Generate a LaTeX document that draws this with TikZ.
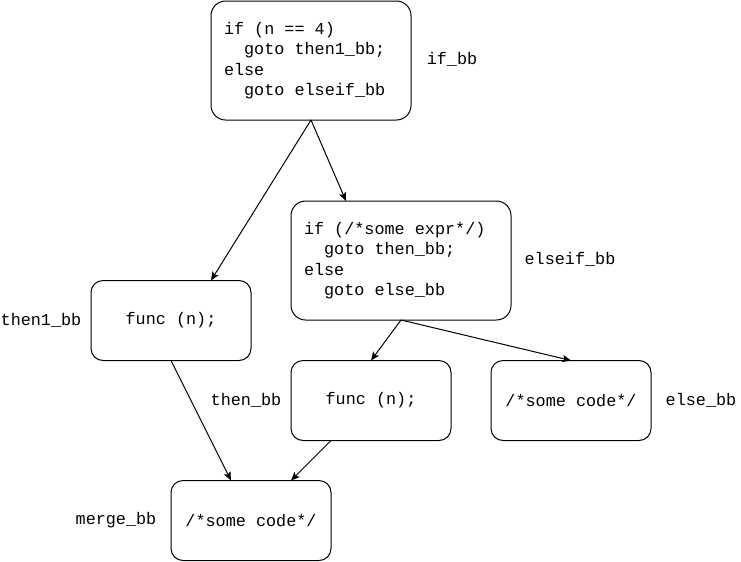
\documentclass[tikz,border=0pt]{standalone}
\usepackage{fontspec}
\setmonofont{Liberation Mono}
\usetikzlibrary{arrows.meta,calc}
\newcommand{\ind}{\phantom{xx}}
\begin{document}
\begin{tikzpicture}[x=0.75pt,y=-0.75pt,
  every node/.style={font=\ttfamily\fontsize{12.6}{15.4}\selectfont, inner sep=0pt, outer sep=0pt},
  bb/.style={draw, line width=0.75pt, rounded corners=9pt, minimum width=120pt, minimum height=60pt, align=center},
  bigbb/.style={draw, line width=0.75pt, rounded corners=11pt, minimum height=89.25pt, inner xsep=9.75pt, text width=#1, align=flush left},
  lbl/.style={},
  edge/.style={draw, line width=0.75pt, -{Stealth[length=6.5pt,width=5.5pt,inset=1.5pt]}}]
\useasboundingbox (0,0) rectangle (741,561);
\node[bigbb=130.5pt] (ifbb) at (311,60.5) {if (n == 4)\\\ind goto then1\_bb;\\else\\\ind goto elseif\_bb};
\node[bigbb=145.5pt] (elseifbb) at (401,260.5) {if (/*some expr*/)\\\ind goto then\_bb;\\else\\\ind goto else\_bb};
\node[bb] (then1bb) at (171,320.5) {func (n);};
\node[bb] (thenbb) at (371,400.5) {func (n);};
\node[bb] (elsebb) at (571,400.5) {/*some code*/};
\node[bb] (mergebb) at (251,520.5) {/*some code*/};
\node[lbl] (l1) at (452,59) {if\_bb};
\node[lbl] (l2) at (570,259) {elseif\_bb};
\node[lbl] (l3) at (41,320) {then1\_bb};
\node[lbl] (l4) at (246,400) {then\_bb};
\node[lbl] (l5) at (701,400) {else\_bb};
\node[lbl] (l6) at (116,520) {merge\_bb};
\draw[edge] (ifbb.south) -- ($(then1bb.north)+(40,0)$);
\draw[edge] (ifbb.south) -- ($(elseifbb.north)+(-55,0)$);
\draw[edge] (elseifbb.south) -- (thenbb.north);
\draw[edge] (elseifbb.south) -- (elsebb.north);
\draw[edge] (then1bb.south) -- ($(mergebb.north)+(-20,0)$);
\draw[edge] ($(thenbb.south)+(-40,0)$) -- ($(mergebb.north)+(40,0)$);
\end{tikzpicture}
\end{document}
